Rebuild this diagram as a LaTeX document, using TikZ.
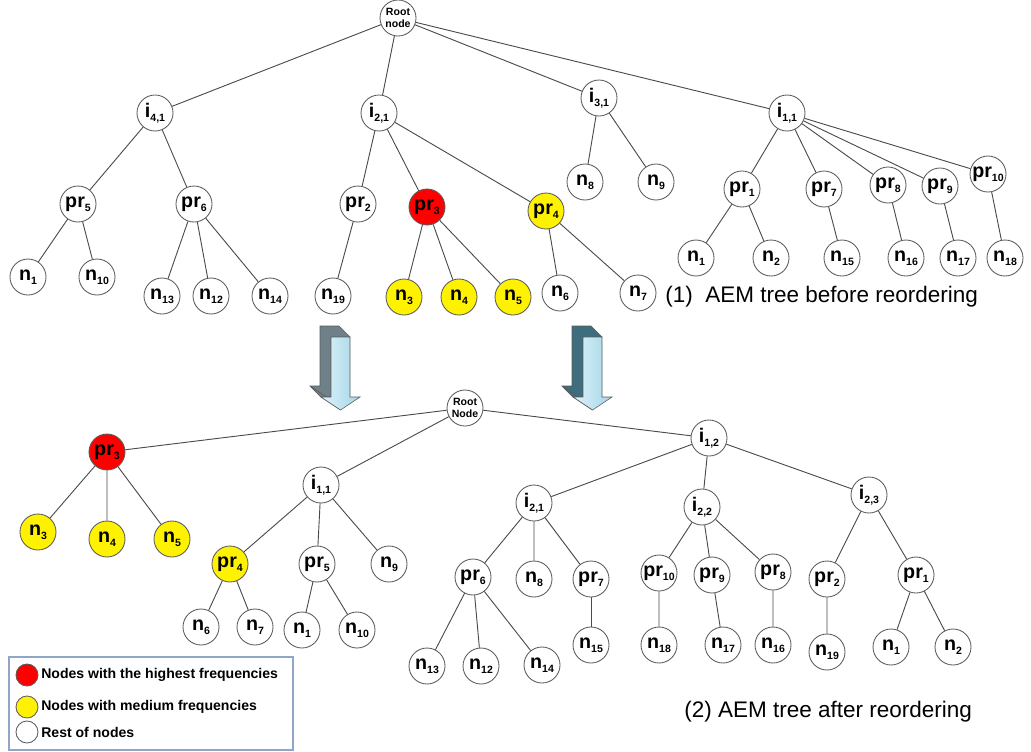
\documentclass[tikz,border=0pt]{standalone}
\usepackage{fontspec}
\setmainfont{Liberation Sans}
\usepackage{xcolor}
\usepackage{tikz}
\usetikzlibrary{shapes}

\definecolor{edgegray}{HTML}{4A4A4A}
\definecolor{rimgray}{HTML}{5A5A5A}
\definecolor{legendrim}{HTML}{8FA6C6}
\definecolor{arrowlight}{HTML}{DDF2FA}
\definecolor{arrowblue}{HTML}{A3D5E8}
\definecolor{sidegray}{HTML}{6F8088}
\definecolor{sideteal}{HTML}{3E6E7E}

\tikzstyle{nd} = [circle, draw=rimgray, line width=0.6pt, fill=white, minimum size=0.9cm, inner sep=0pt, font=\bfseries\fontsize{14}{14}\selectfont]
\tikzstyle{hi} = [nd, fill=red]
\tikzstyle{med} = [nd, fill=yellow]
\tikzstyle{rootnd} = [nd, align=center, font=\bfseries\fontsize{7.5}{8.5}\selectfont]
\tikzstyle{edge} = [draw=edgegray, line width=0.65pt]
\tikzstyle{caption} = [anchor=west, inner sep=0pt, font=\fontsize{16}{18}\selectfont]
\tikzstyle{keydot} = [circle, draw=rimgray, line width=0.6pt, minimum size=0.55cm, inner sep=0pt]
\tikzstyle{keytext} = [anchor=west, inner sep=0pt, font=\bfseries\fontsize{10}{12}\selectfont]

\newcommand{\sbs}[2]{#1\raisebox{-0.2em}{\fontsize{7.5}{8}\selectfont #2}}

\begin{document}
\begin{tikzpicture}[x=0.025cm, y=-0.025cm]
\useasboundingbox (0,0) rectangle (1031,751);
% (1) tree before reordering
\node[rootnd] (aroot) at (398,18) {Root\\node};
\node[nd] (ai41) at (155,113) {\sbs{i}{4,1}};
\node[nd] (ai21) at (379,113) {\sbs{i}{2,1}};
\node[nd] (ai31) at (599,98) {\sbs{i}{3,1}};
\node[nd] (ai11) at (787,113) {\sbs{i}{1,1}};
%
\node[nd] (apr5) at (78,204) {\sbs{pr}{5}};
\node[nd] (apr6) at (194,204) {\sbs{pr}{6}};
\node[nd] (apr2) at (358,204) {\sbs{pr}{2}};
\node[hi] (apr3) at (427,207) {\sbs{pr}{3}};
\node[med] (apr4) at (546,211) {\sbs{pr}{4}};
\node[nd] (an8) at (585,182) {\sbs{n}{8}};
\node[nd] (an9) at (656,182) {\sbs{n}{9}};
\node[nd] (apr1) at (742,189) {\sbs{pr}{1}};
\node[nd] (apr7) at (824,189) {\sbs{pr}{7}};
\node[nd] (apr8) at (888,185) {\sbs{pr}{8}};
\node[nd] (apr9) at (940,186) {\sbs{pr}{9}};
\node[nd] (apr10) at (988,174) {\sbs{pr}{10}};
%
\node[nd] (an1) at (28,277) {\sbs{n}{1}};
\node[nd] (an10) at (97,277) {\sbs{n}{10}};
\node[nd] (an13) at (162,296) {\sbs{n}{13}};
\node[nd] (an12) at (211,296) {\sbs{n}{12}};
\node[nd] (an14) at (270,296) {\sbs{n}{14}};
\node[nd] (an19) at (333,296) {\sbs{n}{19}};
\node[med] (an3) at (404,297) {\sbs{n}{3}};
\node[med] (an4) at (459,297) {\sbs{n}{4}};
\node[med] (an5) at (513,297) {\sbs{n}{5}};
\node[nd] (an6) at (560,293) {\sbs{n}{6}};
\node[nd] (an7) at (638,293) {\sbs{n}{7}};
\node[nd] (an1b) at (696,258) {\sbs{n}{1}};
\node[nd] (an2) at (771,258) {\sbs{n}{2}};
\node[nd] (an15) at (842,258) {\sbs{n}{15}};
\node[nd] (an16) at (906,258) {\sbs{n}{16}};
\node[nd] (an17) at (958,258) {\sbs{n}{17}};
\node[nd] (an18) at (1005,258) {\sbs{n}{18}};
%
\path[edge] (aroot) -- (ai41) (aroot) -- (ai21) (aroot) -- (ai31) (aroot) -- (ai11);
\path[edge] (ai41) -- (apr5) (ai41) -- (apr6);
\path[edge] (ai21) -- (apr2) (ai21) -- (apr3) (ai21) -- (apr4);
\path[edge] (ai31) -- (an8) (ai31) -- (an9);
\path[edge] (ai11) -- (apr1) (ai11) -- (apr7) (ai11) -- (apr8) (ai11) -- (apr9) (ai11) -- (apr10);
\path[edge] (apr5) -- (an1) (apr5) -- (an10);
\path[edge] (apr6) -- (an13) (apr6) -- (an12) (apr6) -- (an14);
\path[edge] (apr2) -- (an19);
\path[edge] (apr3) -- (an3) (apr3) -- (an4) (apr3) -- (an5);
\path[edge] (apr4) -- (an6) (apr4) -- (an7);
\path[edge] (apr1) -- (an1b) (apr1) -- (an2);
\path[edge] (apr7) -- (an15) (apr8) -- (an16) (apr9) -- (an17) (apr10) -- (an18);
\node[caption] (capa) at (665,297) {(1)\ \ AEM tree before reordering};
%
% block arrows
\begin{scope}[shift={(331,337)}]
\fill[sidegray, draw=rimgray, line width=0.4pt] (-11,-11) -- (8,-11) -- (19,0) -- (0,60) -- (-10,60) -- (-21,49) -- (-11,49) -- cycle;
\fill[sidegray, draw=rimgray, line width=0.4pt] (-21,49) -- (-1.5,62) -- (9.5,73) -- (-10,60) -- cycle;
\shade[left color=arrowlight, right color=arrowblue, draw=rimgray, line width=0.4pt] (0,0) -- (19,0) -- (19,60) -- (29,60) -- (9.5,73) -- (-10,60) -- (0,60) -- cycle;
\end{scope}
\begin{scope}[shift={(583,337)}]
\fill[sideteal, draw=rimgray, line width=0.4pt] (-11,-11) -- (8,-11) -- (19,0) -- (0,60) -- (-10,60) -- (-21,49) -- (-11,49) -- cycle;
\fill[sideteal, draw=rimgray, line width=0.4pt] (-21,49) -- (-1.5,62) -- (9.5,73) -- (-10,60) -- cycle;
\shade[left color=arrowlight, right color=arrowblue, draw=rimgray, line width=0.4pt] (0,0) -- (19,0) -- (19,60) -- (29,60) -- (9.5,73) -- (-10,60) -- (0,60) -- cycle;
\end{scope}
%
% (2) tree after reordering
\node[rootnd] (broot) at (465,408) {Root\\Node};
\node[hi] (bpr3) at (107,452) {\sbs{pr}{3}};
\node[nd] (bi11) at (321,485) {\sbs{i}{1,1}};
\node[nd] (bi12) at (709,438) {\sbs{i}{1,2}};
\node[med] (bn3) at (38,532) {\sbs{n}{3}};
\node[med] (bn4) at (107,539) {\sbs{n}{4}};
\node[med] (bn5) at (172,539) {\sbs{n}{5}};
\node[med] (bpr4) at (230,564) {\sbs{pr}{4}};
\node[nd] (bpr5) at (317,564) {\sbs{pr}{5}};
\node[nd] (bn9) at (389,564) {\sbs{n}{9}};
\node[nd] (bn6) at (201,627) {\sbs{n}{6}};
\node[nd] (bn7) at (255,627) {\sbs{n}{7}};
\node[nd] (bn1) at (302,630) {\sbs{n}{1}};
\node[nd] (bn10) at (357,630) {\sbs{n}{10}};
%
\node[nd] (bi21) at (534,503) {\sbs{i}{2,1}};
\node[nd] (bi22) at (702,507) {\sbs{i}{2,2}};
\node[nd] (bi23) at (869,495) {\sbs{i}{2,3}};
\node[nd] (bpr6) at (473,577) {\sbs{pr}{6}};
\node[nd] (bn8) at (534,579) {\sbs{n}{8}};
\node[nd] (bpr7) at (591,579) {\sbs{pr}{7}};
\node[nd] (bpr10) at (659,573) {\sbs{pr}{10}};
\node[nd] (bpr9) at (712,575) {\sbs{pr}{9}};
\node[nd] (bpr8) at (773,572) {\sbs{pr}{8}};
\node[nd] (bpr2) at (827,579) {\sbs{pr}{2}};
\node[nd] (bpr1) at (916,575) {\sbs{pr}{1}};
\node[nd] (bn13) at (427,666) {\sbs{n}{13}};
\node[nd] (bn12) at (481,666) {\sbs{n}{12}};
\node[nd] (bn14) at (542,665) {\sbs{n}{14}};
\node[nd] (bn15) at (591,645) {\sbs{n}{15}};
\node[nd] (bn18) at (659,645) {\sbs{n}{18}};
\node[nd] (bn17) at (723,645) {\sbs{n}{17}};
\node[nd] (bn16) at (773,645) {\sbs{n}{16}};
\node[nd] (bn19) at (827,652) {\sbs{n}{19}};
\node[nd] (bn1b) at (891,647) {\sbs{n}{1}};
\node[nd] (bn2) at (953,647) {\sbs{n}{2}};
%
\path[edge] (broot) -- (bpr3) (broot) -- (bi11) (broot) -- (bi12);
\path[edge] (bpr3) -- (bn3) (bpr3) -- (bn4) (bpr3) -- (bn5);
\path[edge] (bi11) -- (bpr4) (bi11) -- (bpr5) (bi11) -- (bn9);
\path[edge] (bpr4) -- (bn6) (bpr4) -- (bn7) (bpr5) -- (bn1) (bpr5) -- (bn10);
\path[edge] (bi12) -- (bi21) (bi12) -- (bi22) (bi12) -- (bi23);
\path[edge] (bi21) -- (bpr6) (bi21) -- (bn8) (bi21) -- (bpr7);
\path[edge] (bpr6) -- (bn13) (bpr6) -- (bn12) (bpr6) -- (bn14);
\path[edge] (bpr7) -- (bn15);
\path[edge] (bi22) -- (bpr10) (bi22) -- (bpr9) (bi22) -- (bpr8);
\path[edge] (bpr10) -- (bn18) (bpr9) -- (bn17) (bpr8) -- (bn16);
\path[edge] (bi23) -- (bpr2) (bi23) -- (bpr1);
\path[edge] (bpr2) -- (bn19) (bpr1) -- (bn1b) (bpr1) -- (bn2);
\node[caption] (capb) at (684,712) {(2) AEM tree after reordering};
%
% legend
\draw[legendrim, line width=0.8pt] (9,657) rectangle (293,750);
\node[keydot, fill=red] (keyhi) at (27,675) {};
\node[keydot, fill=yellow] (keymed) at (27,707) {};
\node[keydot, fill=white] (keyrest) at (27,732) {};
\node[keytext] at (41,675) {Nodes with the highest frequencies};
\node[keytext] at (41,707) {Nodes with medium frequencies};
\node[keytext] at (41,732) {Rest of nodes};
\end{tikzpicture}
\end{document}
